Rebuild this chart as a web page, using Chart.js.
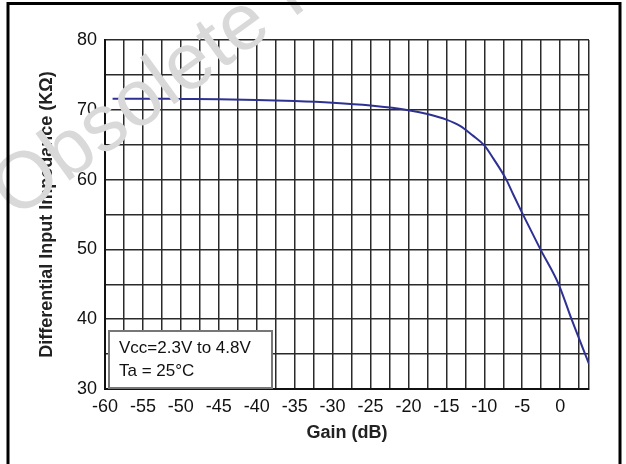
<!DOCTYPE html>
<html>
<head>
<meta charset="utf-8">
<script src="https://cdn.jsdelivr.net/npm/chart.js@4.4.1/dist/chart.umd.min.js"></script>
<style>
  html, body { margin: 0; padding: 0; background: #fff; }
  #wrap { width: 626px; height: 464px; }
</style>
</head>
<body>
<div id="wrap"><canvas id="c" width="626" height="464"></canvas></div>
<script>
// ---- data ----
const gainDb     = [-59, -55, -50, -45, -40, -35, -30, -25, -20, -17.5, -15, -13.2, -11.5, -10, -8.8, -7.1, -6.2, -5, -2.6, -0.2, 1.5, 3.8];
const impedanceK = [71.6, 71.6, 71.55, 71.5, 71.4, 71.25, 71.0, 70.6, 69.95, 69.4, 68.6, 67.7, 66.3, 64.9, 63.0, 60.0, 57.9, 55.2, 50.0, 45.0, 40.0, 33.6];
const xTickLabels = [-60, -55, -50, -45, -40, -35, -30, -25, -20, -15, -10, -5, 0];
const yTickLabels = [30, 40, 50, 60, 70, 80];
const xMin = -60, xMax = 3.8, xGridStep = 2.5;
const yMin = 30, yMax = 80, yGridStep = 5;
const noteLines = ['Vcc=2.3V to 4.8V', 'Ta = 25\u00B0C'];
const xTitle = 'Gain (dB)';
const yTitle = 'Differential Input Impedance (K\u03A9)';
const watermark = 'Obsolete Product(s) - Obsolete Product(s)';

const FONT = '"Liberation Sans", Arial, Helvetica, sans-serif';

const overlay = {
  id: 'overlay',
  afterDatasetsDraw(chart) {
    const ctx = chart.ctx;
    const xs = chart.scales.x, ys = chart.scales.y;
    // note box anchored to the chart area (bottom-left)
    const left = xs.left + 4, bottom = ys.bottom - 1;
    const w = 163, h = 57;
    ctx.save();
    ctx.fillStyle = '#fff';
    ctx.fillRect(left, bottom - h, w, h);
    ctx.strokeStyle = '#777';
    ctx.lineWidth = 2;
    ctx.strokeRect(left, bottom - h, w, h);
    ctx.fillStyle = '#111';
    ctx.font = '17px ' + FONT;
    ctx.textBaseline = 'middle';
    ctx.textAlign = 'left';
    ctx.fillText(noteLines[0], left + 10, bottom - h + 17);
    ctx.fillText(noteLines[1], left + 10, bottom - h + 40.5);
    ctx.restore();
  },
  afterDraw(chart) {
    const ctx = chart.ctx;
    ctx.save();
    // watermark
    ctx.translate(15, 220);
    ctx.rotate(-36 * Math.PI / 180);
    ctx.fillStyle = '#d9d9d9';
    ctx.font = '80px ' + FONT;
    ctx.textBaseline = 'alphabetic';
    ctx.textAlign = 'left';
    ctx.fillText(watermark, 0, 0);
    ctx.restore();
    // outer frame
    ctx.save();
    ctx.strokeStyle = '#000';
    ctx.lineWidth = 3;
    ctx.beginPath();
    ctx.moveTo(8, 470);
    ctx.lineTo(8, 3.5);
    ctx.lineTo(620, 3.5);
    ctx.lineTo(620, 470);
    ctx.stroke();
    ctx.restore();
  }
};

function gridValues(min, max, step) {
  const out = [];
  for (let v = min; v <= max + 1e-9; v += step) out.push(v);
  if (out[out.length - 1] < max - 1e-9) out.push(max);
  return out;
}

new Chart(document.getElementById('c'), {
  type: 'line',
  data: {
    datasets: [{
      data: gainDb.map((g, i) => ({ x: g, y: impedanceK[i] })),
      borderColor: '#2e3192',
      borderWidth: 2,
      pointRadius: 0,
      cubicInterpolationMode: 'monotone',
      fill: false
    }]
  },
  options: {
    responsive: false,
    animation: false,
    devicePixelRatio: 1,
    layout: { padding: { left: 0, top: 40, right: 37, bottom: 0 } },
    plugins: { legend: { display: false }, tooltip: { enabled: false } },
    scales: {
      x: {
        type: 'linear',
        min: xMin, max: xMax,
        afterBuildTicks: s => { s.ticks = gridValues(xMin, xMax, xGridStep).map(v => ({ value: v })); },
        afterFit: s => { s.height = 75; },
        grid: { color: '#2a2a2a', lineWidth: 1.5, drawTicks: false },
        border: { color: '#111', width: 2 },
        ticks: {
          autoSkip: false, maxRotation: 0, padding: 7,
          color: '#111',
          font: { family: FONT, size: 18 },
          callback: v => xTickLabels.includes(v) ? String(v) : ''
        },
        title: {
          display: true, text: xTitle, color: '#222',
          font: { family: FONT, size: 18, weight: 'bold' },
          padding: { top: 0, bottom: 20 }
        }
      },
      y: {
        type: 'linear',
        min: yMin, max: yMax,
        afterBuildTicks: s => { s.ticks = gridValues(yMin, yMax, yGridStep).map(v => ({ value: v })); },
        afterFit: s => { s.width = 105; },
        grid: { color: '#2a2a2a', lineWidth: 1.5, drawTicks: false },
        border: { color: '#111', width: 2 },
        ticks: {
          autoSkip: false, padding: 8,
          color: '#111',
          font: { family: FONT, size: 18 },
          callback: v => yTickLabels.includes(v) ? String(v) : ''
        },
        title: {
          display: true, text: yTitle, color: '#222',
          font: { family: FONT, size: 18, weight: 'bold' },
          padding: { top: 36, bottom: 0 }
        }
      }
    }
  },
  plugins: [overlay]
});
</script>
</body>
</html>
